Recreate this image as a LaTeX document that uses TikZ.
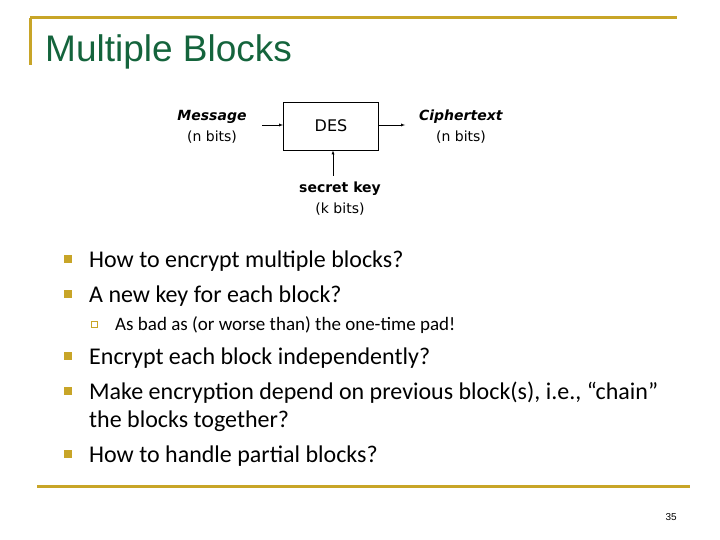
\documentclass[tikz,border=0pt]{standalone}
\usepackage{fontspec}
\setmainfont{Carlito}
\newfontfamily\titlefont{Liberation Sans}
\newfontfamily\comicfont{DejaVu Sans}
\usetikzlibrary{positioning}
\usetikzlibrary{arrows}
\definecolor{gold}{RGB}{200,165,40}
\definecolor{titlegreen}{RGB}{20,100,60}
\begin{document}
\begin{tikzpicture}[x=1pt,y=-1pt,
boxnode/.style={rectangle, draw=black, thick, minimum width=95pt, minimum height=48pt, font=\comicfont\fontsize{16}{18}\selectfont},
labelnode/.style={align=center, font=\comicfont\fontsize{14}{21}\selectfont},
bullet/.style={fill=gold, minimum size=8pt, inner sep=0pt},
subbullet/.style={draw=gold, fill=white, minimum size=6pt, inner sep=0pt},
itemtext/.style={anchor=base west, inner sep=0pt, font=\fontsize{24}{27}\selectfont},
]
\useasboundingbox (0,0) rectangle (720,540);
%Frame
\draw[gold, line width=3pt] (30,18) -- (677,18);
\draw[gold, line width=3pt] (30,18) -- (30,65);
\draw[gold, line width=3pt] (37,486) -- (690,486);
\node[anchor=base west, inner sep=0pt, text=titlegreen, font=\titlefont\fontsize{37}{40}\selectfont] (title) at (45,62) {Multiple Blocks};

%Nodes
\node[boxnode]      (des)     at (331,126)      {DES};
\node[labelnode]    (msg)     at (212,127)      {\textbf{\textit{Message}}\\(n bits)};
\node[labelnode]    (cipher)  at (461,127)      {\textbf{\textit{Ciphertext}}\\(n bits)};
\node[labelnode]    (key)     at (340,199)      {\textbf{secret key}\\(k bits)};
\coordinate (msgtip) at (262,125);
\coordinate (ciphertip) at (405,125);
\coordinate (keytail) at (333,176);

%Lines
\draw[->, >=latex] (msgtip) -- (des.west |- msgtip);
\draw[->, >=latex] (des.east |- ciphertip) -- (ciphertip);
\draw[->, >=latex] (keytail) -- (keytail |- des.south);

%Bullets
\foreach \y/\txt in {259/How to encrypt multiple blocks?, 294/A new key for each block?, 356/Encrypt each block independently?, 391/{Make encryption depend on previous block(s), i.e., “chain”}, 454/How to handle partial blocks?}{
  \node[bullet] at (68,\y) {};
  \node[itemtext] at (89,\y+8) {\txt};
}
\node[itemtext] (cont) at (89,427) {the blocks together?};
\node[subbullet] (sub) at (94,324) {};
\node[itemtext, font=\fontsize{19}{21}\selectfont] (subtext) at (115,330) {As bad as (or worse than) the one-time pad!};
\node[anchor=base east, inner sep=0pt, font=\titlefont\fontsize{10}{12}\selectfont] (page) at (677,520) {35};
\end{tikzpicture}
\end{document}
